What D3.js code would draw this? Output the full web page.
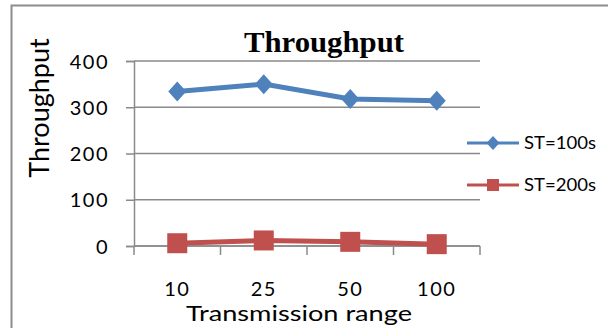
<!DOCTYPE html>
<html>
<head>
<meta charset="utf-8">
<script src="https://cdn.jsdelivr.net/npm/d3@7"></script>
<style>
  body { margin: 0; background: #fff; }
  svg { display: block; }
</style>
</head>
<body>
<div id="chart"></div>
<script>
// data
var categories = ["10", "25", "50", "100"];
var st100 = [334, 350, 318, 314];
var st200 = [6, 12, 9, 4];
var yTicks = [0, 100, 200, 300, 400];
var seriesNames = ["ST=100s", "ST=200s"];

var W = 608, H = 328;
var margin = {top: 61, left: 134},
    width = 346,
    height = 185;
var sans = "Lato, 'Open Sans', sans-serif";

var svg = d3.select("#chart")
  .append("svg")
    .attr("width", W)
    .attr("height", H);

// outer frame (only left and top edges show)
svg.append("path")
  .attr("d", "M11.5,328 L11.5,5.5 L608,5.5")
  .attr("fill", "none")
  .attr("stroke", "#8c8c8c")
  .attr("stroke-width", 2);

var g = svg.append("g")
  .attr("transform", "translate(" + margin.left + "," + margin.top + ")");

var x = d3.scaleBand()
  .domain(categories)
  .range([0, width]);

var y = d3.scaleLinear()
  .domain([0, 400])
  .range([height, 0]);

// gridlines
g.selectAll(".grid")
  .data(yTicks)
  .enter()
  .append("line")
    .attr("x1", 0)
    .attr("x2", width)
    .attr("y1", function(d) { return y(d); })
    .attr("y2", function(d) { return y(d); })
    .attr("stroke", "#8a8a8a")
    .attr("stroke-width", 1.5);

// y axis
var yAxis = g.append("g")
  .call(d3.axisLeft(y).tickValues(yTicks).tickSize(8).tickPadding(17));
yAxis.select(".domain").attr("stroke", "#8a8a8a").attr("stroke-width", 1.5);
yAxis.selectAll(".tick line").attr("stroke", "#8a8a8a").attr("stroke-width", 1.5);
yAxis.selectAll("text")
  .style("font-family", sans)
  .style("font-size", "20px")
  .style("letter-spacing", "1.5px")
  .attr("fill", "#000")
  .attr("dy", "0.35em");

// x axis: tick marks on band edges
var edges = x.domain().map(function(d) { return x(d); }).concat([width]);
var xAxis = g.append("g")
  .attr("transform", "translate(0," + height + ")");
xAxis.append("line")
  .attr("x1", 0).attr("x2", width)
  .attr("stroke", "#8a8a8a").attr("stroke-width", 1.5);
xAxis.selectAll(".xt")
  .data(edges)
  .enter()
  .append("line")
    .attr("x1", function(d) { return d; })
    .attr("x2", function(d) { return d; })
    .attr("y1", 0)
    .attr("y2", 9)
    .attr("stroke", "#8a8a8a")
    .attr("stroke-width", 1.5);
xAxis.selectAll(".xl")
  .data(categories)
  .enter()
  .append("text")
    .attr("x", function(d) { return x(d) + x.bandwidth() / 2; })
    .attr("y", 50)
    .attr("text-anchor", "middle")
    .style("font-family", sans)
    .style("font-size", "20px")
    .style("letter-spacing", "1.5px")
    .text(function(d) { return d; });

// lines
var line = d3.line()
  .x(function(d, i) { return x(categories[i]) + x.bandwidth() / 2; })
  .y(function(d) { return y(d); });

g.append("path")
  .datum(st100)
  .attr("d", line)
  .attr("fill", "none")
  .attr("stroke", "#4f81bd")
  .attr("stroke-width", 5);

g.append("path")
  .datum(st200)
  .attr("d", line)
  .attr("fill", "none")
  .attr("stroke", "#c0504d")
  .attr("stroke-width", 5);

// markers
var diamond = "M0,-10 L9,0 L0,10 L-9,0 Z";
g.selectAll(".m100")
  .data(st100)
  .enter()
  .append("path")
    .attr("d", diamond)
    .attr("fill", "#4f81bd")
    .attr("transform", function(d, i) {
      return "translate(" + (x(categories[i]) + x.bandwidth() / 2) + "," + y(d) + ")";
    });

g.selectAll(".m200")
  .data(st200)
  .enter()
  .append("rect")
    .attr("x", function(d, i) { return x(categories[i]) + x.bandwidth() / 2 - 10; })
    .attr("y", function(d) { return y(d) - 10; })
    .attr("width", 20)
    .attr("height", 20)
    .attr("fill", "#c0504d");

// title
svg.append("text")
  .attr("x", 324)
  .attr("y", 52)
  .attr("text-anchor", "middle")
  .attr("textLength", 160)
  .attr("lengthAdjust", "spacingAndGlyphs")
  .style("font-family", "'Liberation Serif', 'Times New Roman', serif")
  .style("font-weight", "bold")
  .style("font-size", "30px")
  .text("Throughput");

// axis titles
svg.append("text")
  .attr("transform", "translate(49,108)rotate(-90)")
  .attr("text-anchor", "middle")
  .style("font-family", sans)
  .style("font-size", "27px")
  .text("Throughput");

svg.append("text")
  .attr("x", 299)
  .attr("y", 321)
  .attr("text-anchor", "middle")
  .attr("textLength", 226)
  .attr("lengthAdjust", "spacingAndGlyphs")
  .style("font-family", sans)
  .style("font-size", "22px")
  .text("Transmission range");

// legend
var legend = svg.append("g");
var legendY = [143, 185];
var colors = ["#4f81bd", "#c0504d"];
seriesNames.forEach(function(name, i) {
  var lg = legend.append("g").attr("transform", "translate(467," + legendY[i] + ")");
  lg.append("line")
    .attr("x1", 0).attr("x2", 52)
    .attr("stroke", colors[i]).attr("stroke-width", 3);
  if (i === 0) {
    lg.append("path").attr("d", "M0,-7 L6.5,0 L0,7 L-6.5,0 Z")
      .attr("transform", "translate(26,0)")
      .attr("fill", colors[i]);
  } else {
    lg.append("rect").attr("x", 20).attr("y", -6).attr("width", 12).attr("height", 12)
      .attr("fill", colors[i]);
  }
  lg.append("text")
    .attr("x", 57)
    .attr("dy", "0.35em")
    .attr("textLength", 72)
    .attr("lengthAdjust", "spacingAndGlyphs")
    .style("font-family", sans)
    .style("font-size", "17px")
    .text(name);
});
</script>
</body>
</html>
